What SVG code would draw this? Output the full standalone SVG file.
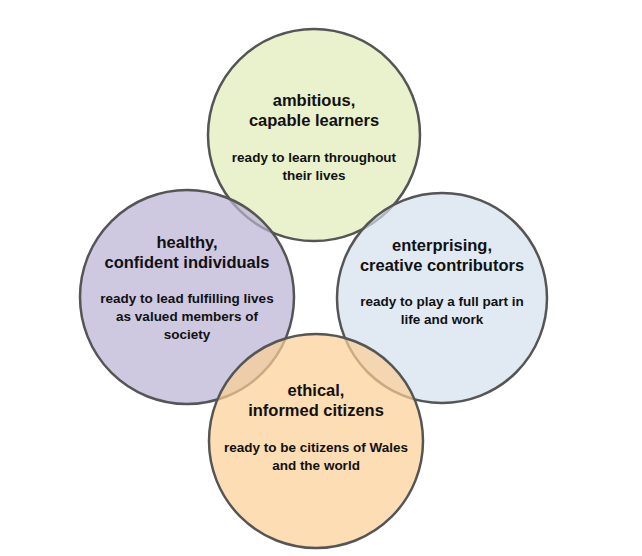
<svg xmlns="http://www.w3.org/2000/svg" width="642" height="556" viewBox="0 0 642 556">
<style>
.c{stroke:#555;stroke-width:2.5;fill-opacity:0.7}
.h{font-family:"Liberation Sans",Arial,sans-serif;font-size:16.5px;font-weight:bold;fill:#111;text-anchor:middle}
.s{font-family:"Liberation Sans",Arial,sans-serif;font-size:13.5px;font-weight:bold;fill:#111;text-anchor:middle}
</style>
<rect width="642" height="556" fill="#fff"/>
<g id="top"><circle class="c" cx="314" cy="135" r="106" fill="#e1ebb8"/></g>
<g id="left"><circle class="c" cx="187" cy="297" r="107" fill="#b9b0d4"/></g>
<g id="right"><circle class="c" cx="442" cy="298" r="105" fill="#d4e1ee"/></g>
<g id="bottom"><circle class="c" cx="316" cy="441" r="107" fill="#fccf94"/></g>
<g id="labels">
<text class="h" x="314" y="106">ambitious,</text>
<text class="h" x="314" y="126">capable learners</text>
<text class="s" x="314" y="162">ready to learn throughout</text>
<text class="s" x="314" y="180">their lives</text>
<text class="h" x="187" y="248">healthy,</text>
<text class="h" x="187" y="268">confident individuals</text>
<text class="s" x="187" y="303">ready to lead fulfilling lives</text>
<text class="s" x="187" y="321">as valued members of</text>
<text class="s" x="187" y="339">society</text>
<text class="h" x="442" y="251">enterprising,</text>
<text class="h" x="442" y="271">creative contributors</text>
<text class="s" x="442" y="306">ready to play a full part in</text>
<text class="s" x="442" y="324">life and work</text>
<text class="h" x="316" y="396">ethical,</text>
<text class="h" x="316" y="416">informed citizens</text>
<text class="s" x="316" y="452">ready to be citizens of Wales</text>
<text class="s" x="316" y="470">and the world</text>
</g>
</svg>
